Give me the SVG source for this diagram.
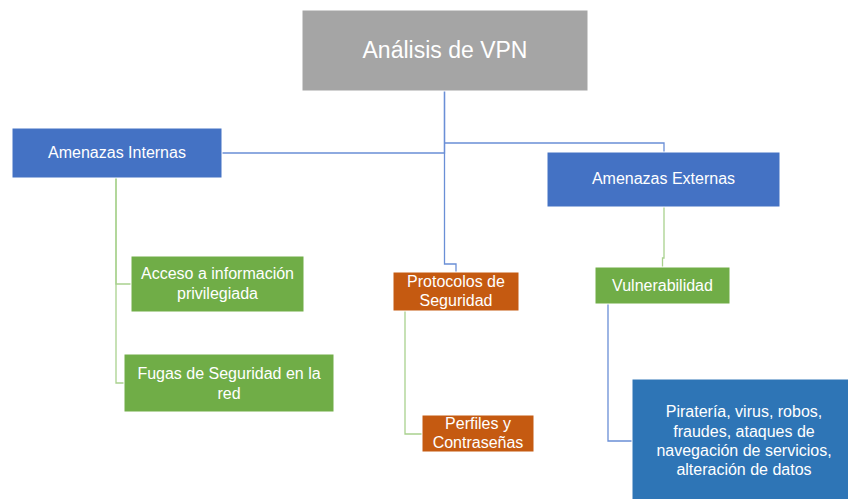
<svg xmlns="http://www.w3.org/2000/svg" width="848" height="499" viewBox="0 0 848 499">
<style>
  .box { stroke: #ffffff; stroke-width: 1; }
  .gray { fill: #A5A5A5; }
  .blue { fill: #4472C4; }
  .green { fill: #70AD47; }
  .orange { fill: #C55A11; }
  .dblue { fill: #2E75B6; }
  text { font-family: "Liberation Sans", Arial, sans-serif; fill: #ffffff; text-anchor: middle; font-size: 16px; }
  .title { font-size: 23px; }
  .cb { fill: none; stroke: #6A8FD6; stroke-width: 1.3; }
  .cg { fill: none; stroke: #A9D18E; stroke-width: 1.3; }
</style>
<rect width="848" height="499" fill="#ffffff"/>
<g id="connectors">
  <path class="cb" d="M444.5,91 V153 H222"/>
  <path class="cb" d="M444.5,143 H664 V152"/>
  <path class="cb" d="M444.5,91 V264 H456 V272"/>
  <path class="cg" d="M116,178 V284 H131"/>
  <path class="cg" d="M116,178 V383 H124"/>
  <path class="cg" d="M405,311 V434 H422"/>
  <path class="cg" d="M664,207 V258 H662.5 V267"/>
  <path class="cb" d="M608,304 V441 H632"/>
</g>
<g id="root">
  <rect class="box gray" x="302" y="10" width="286" height="81"/>
  <text class="title" x="445" y="58">Análisis de VPN</text>
</g>
<g id="internas">
  <rect class="box blue" x="12" y="128" width="210" height="50"/>
  <text x="117" y="158">Amenazas Internas</text>
</g>
<g id="externas">
  <rect class="box blue" x="547" y="152" width="233" height="55"/>
  <text x="663.5" y="184">Amenazas Externas</text>
</g>
<g id="acceso">
  <rect class="box green" x="131" y="256" width="173" height="56"/>
  <text x="217.5" y="279">Acceso a información</text>
  <text x="217.5" y="299">privilegiada</text>
</g>
<g id="fugas">
  <rect class="box green" x="124" y="354" width="210" height="58"/>
  <text x="229" y="379">Fugas de Seguridad en la</text>
  <text x="229" y="399">red</text>
</g>
<g id="protocolos">
  <rect class="box orange" x="393" y="272" width="126" height="39"/>
  <text x="456" y="287">Protocolos de</text>
  <text x="456" y="306">Seguridad</text>
</g>
<g id="perfiles">
  <rect class="box orange" x="422" y="415" width="112" height="37"/>
  <text x="478" y="429">Perfiles y</text>
  <text x="478" y="448">Contraseñas</text>
</g>
<g id="vulnerabilidad">
  <rect class="box green" x="595" y="267" width="135" height="37"/>
  <text x="662.5" y="291">Vulnerabilidad</text>
</g>
<g id="pirateria">
  <rect class="box dblue" x="632" y="379" width="220" height="124"/>
  <text x="744" y="417">Piratería, virus, robos,</text>
  <text x="744" y="437">fraudes, ataques de</text>
  <text x="744" y="456">navegación de servicios,</text>
  <text x="744" y="475">alteración de datos</text>
</g>
</svg>
